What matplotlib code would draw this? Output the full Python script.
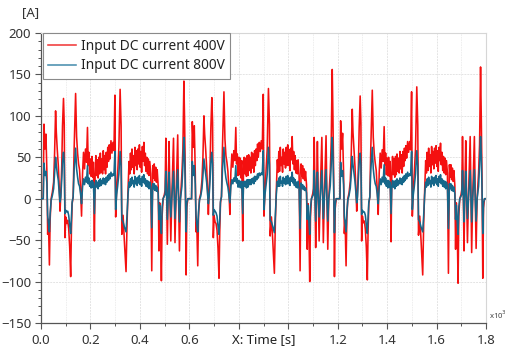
import numpy as np
import matplotlib
matplotlib.use("Agg")
import matplotlib.pyplot as plt
from matplotlib.ticker import MultipleLocator, FixedLocator, FixedFormatter

plt.rcParams['font.family'] = ['Noto Sans', 'DejaVu Sans']

# relative time inside each 0.6 s cycle [s]
tau = [0.000, 0.009, 0.012, 0.016, 0.020, 0.024, 0.027, 0.030, 0.034, 0.037,
       0.041, 0.046, 0.051, 0.055, 0.059, 0.062, 0.066, 0.070, 0.074, 0.077,
       0.080, 0.084, 0.087, 0.091, 0.094, 0.097, 0.100, 0.104, 0.108, 0.112,
       0.116, 0.120, 0.123, 0.126, 0.130, 0.134, 0.140, 0.144, 0.148, 0.152,
       0.156, 0.160, 0.164, 0.168, 0.172, 0.176, 0.180, 0.184, 0.188, 0.191,
       0.194, 0.197, 0.200, 0.203, 0.206, 0.209, 0.212, 0.216, 0.219, 0.222,
       0.225, 0.228, 0.231, 0.234, 0.237, 0.240, 0.243, 0.246, 0.249, 0.252,
       0.255, 0.258, 0.261, 0.264, 0.267, 0.270, 0.273, 0.276, 0.279, 0.283,
       0.287, 0.291, 0.295, 0.299, 0.302, 0.306, 0.310, 0.315, 0.320, 0.324,
       0.327, 0.332, 0.337, 0.344, 0.348, 0.352, 0.356, 0.359, 0.362, 0.365,
       0.368, 0.371, 0.374, 0.377, 0.380, 0.383, 0.386, 0.389, 0.392, 0.395,
       0.398, 0.401, 0.404, 0.407, 0.410, 0.413, 0.416, 0.419, 0.422, 0.425,
       0.428, 0.431, 0.434, 0.437, 0.440, 0.444, 0.448, 0.452, 0.455, 0.458,
       0.461, 0.464, 0.467, 0.470, 0.474, 0.477, 0.480, 0.484, 0.487, 0.490,
       0.494, 0.499, 0.502, 0.505, 0.508, 0.511, 0.514, 0.518, 0.521, 0.525,
       0.529, 0.536, 0.539, 0.542, 0.546, 0.553, 0.556, 0.560, 0.564, 0.570,
       0.574, 0.578, 0.581, 0.584, 0.587, 0.590, 0.594]

cycle_start = [0.0, 0.6, 1.2]
t_end = 1.8

red_c1 = [
    0, 0, 90, 60, 78, 30, -43, -25, -80, -25,
    0, 8, 20, 55, 106, 80, 58, 40, 12, -15,
    5, 40, 88, 121, 90, -47, -22, -30, -26, -36,
    -58, -94, -38, -6, 2, 60, 127, 75, 55, 42,
    35, 12, -21, 30, 56, 36, 60, 44, 86, 40,
    56, 30, 48, 27, 51, 26, 44, -51, 30, 52,
    28, 47, 25, 50, 30, 55, 32, 48, 30, 58,
    35, 52, 30, 56, 38, 62, 45, 65, 48, 70,
    55, 68, 58, 125, -22, 12, 30, 62, 132, 88,
    -43, -20, -50, -88, -30, 10, 45, 30, 55, 35,
    60, 38, 52, 30, 62, 40, 58, 35, 60, 42,
    65, 38, 57, 32, 63, 45, 68, 40, 55, 33,
    50, 30, 48, 28, 45, 30, -87, 40, 25, 42,
    22, 38, 20, 35, 15, -63, -5, -40, -99, -20,
    0, 5, 10, 73, 15, -55, 0, 69, 10, -51,
    0, 73, 10, -53, 0, 77, 10, -63, 0, 30,
    60, 142, 90, 20, -92, -10, 0]

blue_c1 = [
    0, 0, 43, 28, 33, 18, -20, -30, -40, -18,
    -2, 4, 12, 30, 50, 40, 30, 22, 6, -4,
    2, 24, 45, 56, 42, -18, -14, -16, -15, -20,
    -32, -42, -24, -4, 2, 35, 61, 36, 26, 18,
    15, 6, -6, 14, 24, 17, 26, 20, 40, 18,
    25, 15, 21, 13, 22, 14, 20, -18, 15, 22,
    14, 20, 12, 22, 15, 24, 16, 22, 18, 25,
    18, 24, 17, 26, 20, 28, 22, 30, 24, 32,
    27, 30, 28, 57, -13, 5, 15, 30, 57, 40,
    -25, -28, -34, -40, -20, 5, 20, 14, 24, 16,
    26, 18, 22, 14, 27, 18, 25, 16, 26, 19,
    28, 17, 24, 15, 27, 20, 29, 18, 24, 15,
    22, 14, 21, 12, 20, 14, -35, 18, 12, 18,
    10, 16, 9, 14, 6, -25, -8, -30, -42, -10,
    0, 3, 5, 33, 8, -25, 0, 32, 5, -22,
    0, 33, 5, -24, 0, 35, 5, -28, 0, 15,
    40, 74, 50, 10, -40, -5, 0]

red_c2 = [
    0, 0, 93, 62, 88, 32, -40, -28, -81, -22,
    0, 6, 22, 50, 100, 78, 60, 38, 10, -19,
    6, 42, 85, 122, 92, -47, -20, -28, -30, -38,
    -60, -96, -40, -5, 3, 62, 129, 72, 52, 44,
    33, 10, -19, 32, 54, 38, 58, 46, 86, 42,
    54, 28, 50, 29, 49, 25, 46, -51, 32, 50,
    30, 49, 27, 52, 28, 53, 34, 50, 31, 56,
    37, 54, 32, 58, 40, 60, 46, 66, 50, 68,
    57, 70, 60, 126, -21, 10, 32, 60, 133, 90,
    -45, -22, -48, -90, -28, 12, 47, 32, 57, 33,
    62, 40, 50, 32, 60, 42, 56, 37, 62, 40,
    65, 40, 59, 34, 61, 47, 75, 42, 57, 35,
    52, 31, 46, 30, 47, 28, -87, 42, 27, 40,
    24, 36, 22, 33, 17, -61, -6, -42, -100, -22,
    0, 6, 12, 74, 14, -59, 0, 69, 12, -51,
    0, 74, 12, -53, 0, 76, 12, -61, 0, 32,
    70, 156, 95, 22, -94, -12, 0]

blue_c2 = [
    0, 0, 45, 28, 40, 18, -20, -30, -40, -16,
    -2, 3, 12, 28, 48, 40, 30, 20, 5, -6,
    3, 24, 44, 56, 42, -20, -13, -15, -17, -21,
    -33, -43, -25, -3, 2, 36, 62, 35, 25, 19,
    14, 5, -5, 15, 23, 18, 25, 21, 40, 19,
    24, 14, 22, 14, 21, 13, 21, -18, 16, 21,
    15, 21, 13, 23, 14, 23, 17, 23, 17, 24,
    19, 25, 18, 27, 21, 27, 23, 30, 25, 31,
    28, 31, 29, 58, -13, 5, 16, 29, 62, 41,
    -26, -28, -33, -41, -19, 6, 21, 15, 25, 15,
    27, 19, 21, 15, 26, 19, 24, 17, 27, 18,
    28, 18, 25, 16, 26, 21, 32, 19, 25, 16,
    23, 14, 20, 13, 21, 13, -36, 19, 13, 17,
    11, 15, 10, 13, 7, -25, -8, -30, -43, -11,
    0, 3, 5, 34, 7, -27, 0, 32, 6, -22,
    0, 34, 6, -24, 0, 35, 6, -27, 0, 16,
    42, 74, 52, 11, -41, -6, 0]

red_c3 = [
    0, 0, 94, 60, 79, 30, -42, -26, -81, -24,
    0, 7, 21, 55, 108, 80, 59, 39, 11, -15,
    5, 41, 86, 124, 91, -51, -21, -29, -27, -37,
    -59, -98, -39, -6, 2, 61, 131, 74, 54, 43,
    34, 11, -19, 31, 55, 37, 59, 45, 87, 41,
    55, 29, 49, 28, 50, 27, 45, -52, 31, 51,
    29, 48, 26, 51, 29, 54, 33, 49, 31, 57,
    36, 53, 31, 57, 39, 61, 46, 64, 49, 69,
    56, 69, 59, 129, -21, 11, 31, 61, 135, 89,
    -44, -21, -49, -92, -29, 11, 46, 31, 56, 34,
    61, 39, 53, 31, 63, 41, 57, 36, 61, 43,
    64, 39, 58, 33, 62, 46, 67, 41, 56, 34,
    51, 31, 49, 29, 46, 31, -90, 41, 26, 41,
    23, 37, 21, 34, 16, -61, -5, -41, -102, -21,
    0, 5, 11, 75, 14, -63, 0, 70, 11, -53,
    0, 75, 11, -65, 0, 75, 11, -60, 0, 31,
    65, 159, 96, 21, -96, -11, 0]

blue_c3 = [
    0, 0, 44, 27, 34, 17, -21, -29, -40, -17,
    -2, 4, 13, 30, 51, 41, 31, 21, 6, -5,
    2, 25, 44, 55, 41, -19, -14, -16, -16, -20,
    -32, -42, -24, -4, 2, 35, 62, 36, 25, 18,
    15, 6, -6, 14, 24, 17, 26, 20, 41, 18,
    25, 15, 22, 13, 22, 14, 20, -18, 15, 22,
    14, 21, 12, 22, 15, 24, 16, 22, 18, 25,
    18, 24, 17, 26, 20, 28, 22, 30, 24, 32,
    27, 30, 28, 57, -13, 5, 15, 30, 58, 40,
    -25, -28, -34, -40, -20, 5, 20, 14, 24, 16,
    26, 18, 22, 14, 27, 18, 25, 16, 26, 19,
    28, 17, 24, 15, 27, 20, 29, 18, 24, 15,
    22, 14, 21, 12, 20, 14, -36, 18, 12, 18,
    10, 16, 9, 14, 6, -25, -8, -30, -43, -10,
    0, 3, 5, 34, 8, -28, 0, 33, 5, -24,
    0, 34, 5, -28, 0, 35, 5, -27, 0, 15,
    41, 75, 52, 10, -42, -5, 0]

labels = ["Input DC current 400V", "Input DC current 800V"]
x_tick_labels = ["0.0", "0.2", "0.4", "0.6", "", "", "1.2", "1.4", "1.6", "1.8"]

# assemble series
tau_a = np.array(tau)
t = np.concatenate([s + tau_a for s in cycle_start] + [[t_end]])
red = np.concatenate([red_c1, red_c2, red_c3, [0]])
blue = np.concatenate([blue_c1, blue_c2, blue_c3, [0]])

W, H = 509, 353
fig = plt.figure(figsize=(W / 100, H / 100), dpi=100)
ax = fig.add_axes([41 / W, 1 - 323 / H, 445 / W, 290 / H])

RED = '#f41010'
BLUE = '#16678a'

ax.set_xlim(0, 1.8)
ax.set_ylim(-150, 200)

# grid
ax.xaxis.set_major_locator(FixedLocator(np.arange(0, 1.81, 0.2)))
ax.xaxis.set_minor_locator(MultipleLocator(0.1))
ax.yaxis.set_major_locator(MultipleLocator(50))
ax.yaxis.set_minor_locator(MultipleLocator(10))
ax.grid(which='major', color='#e4e4e4', lw=0.7, ls=(0, (2, 1)))
ax.grid(which='minor', axis='x', color='#ececec', lw=0.6, ls=(0, (2, 1)))
ax.set_axisbelow(True)
ax.axhline(0, color='#c4c4c4', lw=0.9, zorder=1)

ax.plot(t, red, color=RED, lw=1.15, label=labels[0], zorder=2)
ax.plot(t, blue, color=BLUE, lw=1.15, label=labels[1], zorder=3)

ax.xaxis.set_major_formatter(FixedFormatter(x_tick_labels))

for sp in ['top', 'right']:
    ax.spines[sp].set_color('#d6d6d6')
for sp in ['left', 'bottom']:
    ax.spines[sp].set_color('#555555')
    ax.spines[sp].set_linewidth(0.9)

ax.tick_params(which='major', direction='out', length=4.5, width=0.8,
               color='#555555', labelsize=9.5, labelcolor='#333333', pad=2.5)
ax.tick_params(which='minor', direction='out', length=2.5, width=0.7, color='#555555')
ax.tick_params(axis='x', which='major', pad=3.5)

leg = ax.legend(loc='upper left', bbox_to_anchor=(0.004, 1.0), borderaxespad=0,
                fontsize=9.9, frameon=True, fancybox=False, handlelength=2.0,
                handletextpad=0.35, borderpad=0.4, labelspacing=0.35)
leg.get_frame().set_edgecolor('#8a8a8a')
leg.get_frame().set_linewidth(0.8)
leg.get_frame().set_alpha(1)
for txt in leg.get_texts():
    txt.set_color('#222222')
leg.get_lines()[1].set_color('#4a8fae')
leg.get_lines()[0].set_color('#f03a3a')

fig.text(31 / W, 1 - 13 / H, "[A]", ha='center', va='center', fontsize=9.5, color='#333333')
fig.text(264 / W, 1 - 340 / H, "X: Time [s]", ha='center', va='center', fontsize=9.5,
         color='#222222')
fig.text(489 / W, 1 - 315 / H, r"x10$^{3}$", ha='left', va='center', fontsize=5.5,
         color='#444444')

fig.savefig("out.png", dpi=100, facecolor='white')
